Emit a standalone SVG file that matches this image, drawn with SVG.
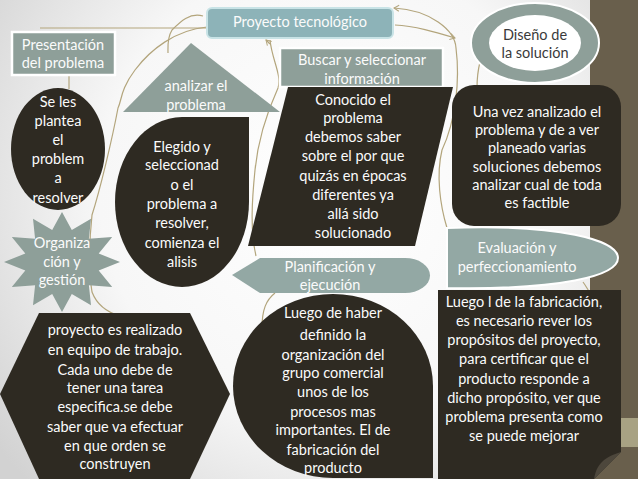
<svg xmlns="http://www.w3.org/2000/svg" width="638" height="479" viewBox="0 0 638 479">
<defs>
<radialGradient id="bg" cx="330" cy="190" r="420" gradientUnits="userSpaceOnUse">
<stop offset="0" stop-color="#ffffff"/>
<stop offset="0.55" stop-color="#f7f7f7"/>
<stop offset="1" stop-color="#d2d2d2"/>
</radialGradient>
<marker id="arr" markerWidth="8" markerHeight="8" refX="6" refY="4" orient="auto" markerUnits="userSpaceOnUse">
<path d="M1,1 L6,4 L1,7" fill="none" stroke="#b3a57c" stroke-width="1"/>
</marker>
<style>
.dark{fill:#2e2a22}
.gray{fill:#8e9f99}
.wb{stroke:#ffffff;stroke-width:2.5}
text{font-family:Lato,"Liberation Sans",sans-serif;font-size:14.5px;font-weight:400;fill:#fbfbfb;text-anchor:middle}
.dk{fill:#3a3a3a}
.con path{fill:none;stroke:#b3a57c;stroke-width:1.2}
</style>
</defs>
<rect x="0" y="0" width="638" height="479" fill="url(#bg)"/>
<rect x="590" y="0" width="48" height="479" fill="#695f4c"/>
<rect x="590" y="418" width="48" height="29" fill="#a8a283"/>

<g id="connectors" class="con">
<path d="M40,28 L207,28"/>
<path d="M69,76 L69,89"/>
<path d="M203,16 C190,12 180,22 172,30 C167,38 168,46 168,53"/>
<path d="M207,27 C175,30 150,50 135,70 C120,90 122,100 118,108 C112,140 100,190 92,215 C88,250 90,280 92,292 C97,305 106,312 120,316"/>
<path d="M270,40 C272,60 282,75 278,88 C268,110 258,140 255,170 C252,200 250,230 256,256"/>
<path d="M275,293 C266,300 262,310 262,328"/>
<path d="M395,25 C415,26 435,32 455,38" marker-end="url(#arr)"/>
<path d="M456,48 C455,30 430,10 394,8" marker-end="url(#arr)"/>
<path d="M456,48 C460,80 456,120 442,150 C436,175 440,205 447,228"/>
<path d="M480,62 C478,70 477,80 477,88"/>
<path d="M583,282 C586,286 588,290 590,293"/>
<path d="M270,44 L266,40" marker-end="url(#arr)"/>
</g>

<g id="proyecto">
<rect x="207" y="8" width="186" height="30" rx="5" fill="#8db3b8" stroke="#c8e3e6" stroke-width="2"/>
<text x="300" y="27">Proyecto tecnológico</text>
</g>

<g id="presentacion">
<rect x="12" y="32" width="103" height="43" class="gray wb"/>
<text x="63" y="50">Presentación</text>
<text x="63" y="68">del problema</text>
</g>

<g id="analizar">
<polygon points="191,43 280,112 123,112" class="gray"/>
<text x="196" y="91">analizar el</text>
<text x="196" y="110">problema</text>
</g>

<g id="seles">
<ellipse cx="58" cy="149" rx="47" ry="61" class="dark"/>
<text x="58" y="107">Se les</text>
<text x="58" y="126">plantea</text>
<text x="58" y="145">el</text>
<text x="58" y="164">problem</text>
<text x="58" y="183">a</text>
<text x="58" y="203">resolver</text>
</g>

<g id="elegido">
<path d="M182,117 L249,117 L249,202 A67,85 0 0 1 182,287 A67,85 0 0 1 115,202 A67,85 0 0 1 182,117 Z" class="dark"/>
<text x="182" y="152">Elegido y</text>
<text x="182" y="170">seleccionad</text>
<text x="182" y="190">o el</text>
<text x="182" y="209">problema a</text>
<text x="182" y="228">resolver,</text>
<text x="182" y="248">comienza el</text>
<text x="182" y="267">alisis</text>
</g>

<g id="buscar">
<rect x="280" y="48" width="163" height="39" class="gray wb"/>
<text x="362" y="65">Buscar y seleccionar</text>
<text x="362" y="84">información</text>
</g>

<g id="conocido">
<polygon points="288,87 453,87 415,246 248,246" class="dark"/>
<text x="353" y="105">Conocido el</text>
<text x="353" y="123">problema</text>
<text x="353" y="142">debemos saber</text>
<text x="353" y="161">sobre el por que</text>
<text x="353" y="181">quizás en épocas</text>
<text x="353" y="200">diferentes  ya</text>
<text x="353" y="219">allá sido</text>
<text x="353" y="238">solucionado</text>
</g>

<g id="diseno">
<ellipse cx="535" cy="43" rx="64" ry="40" class="gray" stroke="#ffffff" stroke-width="2"/>
<ellipse cx="535" cy="43" rx="46" ry="28" fill="#ffffff"/>
<text x="535" y="40" class="dk">Diseño de</text>
<text x="535" y="58" class="dk">la solución</text>
</g>

<g id="unavez">
<rect x="452" y="85" width="169" height="141" rx="22" class="dark"/>
<text x="537" y="117">Una vez analizado el</text>
<text x="537" y="135">problema y de a ver</text>
<text x="537" y="153">planeado varias</text>
<text x="537" y="172">soluciones debemos</text>
<text x="537" y="190">analizar cual de toda</text>
<text x="537" y="208">es factible</text>
</g>

<g id="evaluacion">
<path d="M447,228 C560,224 618,240 618,258 C618,276 560,290 447,288 Z" fill="#93a8a4" stroke="#ffffff" stroke-width="2"/>
<text x="517" y="253">Evaluación  y</text>
<text x="517" y="272">perfeccionamiento</text>
</g>

<g id="planificacion">
<path d="M232,275 L260,258 L405,258 A25,17.5 0 0 1 405,293 L260,293 Z" fill="#93a8a4"/>
<text x="330" y="272">Planificación  y</text>
<text x="330" y="290">ejecución</text>
</g>

<g id="organizacion">
<polygon points="62,212 71.8,230.1 91,218.7 88.9,238.7 112.2,237 98.7,253.5 120,262 98.7,270.5 112.2,287 88.9,285.3 91,305.3 71.8,293.9 62,312 52.2,293.9 33,305.3 35.1,285.3 11.8,287 25.3,270.5 4,262 25.3,253.5 11.8,237 35.1,238.7 33,218.7 52.2,230.1" class="gray"/>
<text x="62" y="248">Organiza</text>
<text x="62" y="267">ción y</text>
<text x="62" y="285">gestión</text>
</g>

<g id="equipo">
<polygon points="0,394 39,313 190,313 230,394 190,479 39,479" class="dark"/>
<text x="115" y="335">proyecto es realizado</text>
<text x="115" y="355">en equipo de trabajo.</text>
<text x="115" y="375">Cada uno debe de</text>
<text x="115" y="393">tener una tarea</text>
<text x="115" y="412">especifica.se debe</text>
<text x="115" y="432">saber que va efectuar</text>
<text x="115" y="451">en que orden se</text>
<text x="115" y="469">construyen</text>
</g>

<g id="luegohaber">
<path d="M333,294 A100,92 0 0 0 233,386 A100,92 0 0 0 333,478 L433,478 L433,386 A100,92 0 0 0 333,294 Z" class="dark"/>
<text x="333" y="318">Luego de haber</text>
<text x="333" y="340">definido la</text>
<text x="333" y="360">organización  del</text>
<text x="333" y="378">grupo comercial</text>
<text x="333" y="397">unos de los</text>
<text x="333" y="417">procesos mas</text>
<text x="333" y="435">importantes. El de</text>
<text x="333" y="455">fabricación del</text>
<text x="333" y="473">producto</text>
</g>

<g id="fabricacion">
<path d="M438,290 L621,290 L621,452 L594,479 L438,479 Z" class="dark"/>
<path d="M594,479 C596,468 600,458 621,452 Z" fill="#4d473c"/>
<text x="524" y="307">Luego l de la fabricación,</text>
<text x="524" y="326">es necesario rever los</text>
<text x="524" y="345">propósitos del proyecto,</text>
<text x="524" y="364">para certificar que el</text>
<text x="524" y="384">producto  responde a</text>
<text x="524" y="403">dicho propósito, ver que</text>
<text x="524" y="422">problema presenta como</text>
<text x="524" y="441">se puede mejorar</text>
</g>
</svg>
